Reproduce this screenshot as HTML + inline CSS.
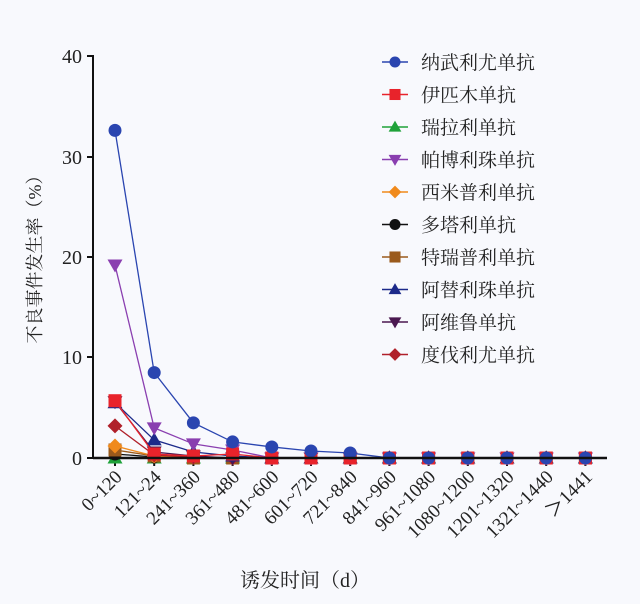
<!DOCTYPE html><html><head><meta charset="utf-8"><style>body{margin:0;background:#f8f9fd}svg{display:block}</style></head><body>
<svg width="640" height="604" xmlns="http://www.w3.org/2000/svg" font-family="Liberation Serif, serif">
<rect width="640" height="604" fill="#f8f9fd"/>
<g stroke="#111" stroke-width="2" fill="none">
<path d="M93 55 V458 H607"/>
<path d="M87 56H93M87 157H93M87 257H93M87 357H93M87 458H93"/>
</g>
<g stroke="#111" stroke-width="2" id="xt"></g>
<g font-size="20" fill="#222" text-anchor="end">
<text x="82" y="63">40</text><text x="82" y="164">30</text><text x="82" y="264">20</text><text x="82" y="364">10</text><text x="82" y="465">0</text>
</g>
<g id="xl" font-size="19" fill="#222" text-anchor="end"></g>
<text x="0" y="0" transform="translate(41,255) rotate(-90)" text-anchor="middle" font-size="18" fill="#222" font-family="Liberation Serif, Noto Serif CJK SC, serif">不良事件发生率（%）</text>
<text x="305" y="587" text-anchor="middle" font-size="20" fill="#222" font-family="Liberation Serif, Noto Serif CJK SC, serif">诱发时间（d）</text>
<g id="series"></g>
<g id="legend" font-size="19" fill="#222" font-family="Liberation Serif, Noto Serif CJK SC, serif"></g>
<script>
var NS="http://www.w3.org/2000/svg";
function el(t,a,p){var e=document.createElementNS(NS,t);for(var k in a)e.setAttribute(k,a[k]);p.appendChild(e);return e;}
var X=function(i){return 115+i*39.2}, Y=function(v){return 458-v*10.05};
var labs=["0~120","121~24","241~360","361~480","481~600","601~720","721~840","841~960","961~1080","1080~1200","1201~1320","1321~1440","＞1441"];
var xt=document.getElementById("xt"),xl=document.getElementById("xl");
labs.forEach(function(l,i){el("line",{x1:X(i),x2:X(i),y1:458,y2:466},xt);var t=el("text",{transform:"translate("+(X(i)+8)+",478) rotate(-45)"},xl);t.textContent=l;});
var S=[
["纳武利尤单抗","#2a45b0","circle",[32.6,8.5,3.5,1.6,1.1,0.7,0.5,0,0,0,0,0,0]],
["伊匹木单抗","#e8232b","square",[5.7,0.4,0.2,0.4,0,0,0,0,0,0,0,0,0]],
["瑞拉利单抗","#1fa23a","tri",[0,0,0,0,0,0,0,0,0,0,0,0,0]],
["帕博利珠单抗","#8a3fb0","dtri",[19.2,3.0,1.4,0.8,0,0,0,0,0,0,0,0,0]],
["西米普利单抗","#f08a1c","diamond",[1.2,0.2,0.1,0,0,0,0,0,0,0,0,0,0]],
["多塔利单抗","#111","circle",[0.4,0.1,0,0,0,0,0,0,0,0,0,0,0]],
["特瑞普利单抗","#9a5a1c","square",[0.8,0.2,0,0,0,0,0,0,0,0,0,0,0]],
["阿替利珠单抗","#1c2a8a","tri",[5.5,1.8,0.6,0.2,0,0,0,0,0,0,0,0,0]],
["阿维鲁单抗","#4a1850","dtri",[5.6,0.6,0.2,0,0,0,0,0,0,0,0,0,0]],
["度伐利尤单抗","#b0202a","diamond",[3.2,0.3,0.1,0,0,0,0,0,0,0,0,0,0]]];
function mk(type,x,y,c,g,s){s=s||1;
 if(type=="circle")el("circle",{cx:x,cy:y,r:6.5*s,fill:c},g);
 else if(type=="square")el("rect",{x:x-6.5*s,y:y-6.5*s,width:13*s,height:13*s,fill:c},g);
 else if(type=="tri")el("polygon",{points:[x,y-7.5*s,x-7.5*s,y+5.5*s,x+7.5*s,y+5.5*s].join(","),fill:c},g);
 else if(type=="dtri")el("polygon",{points:[x,y+7.5*s,x-7.5*s,y-5.5*s,x+7.5*s,y-5.5*s].join(","),fill:c},g);
 else el("polygon",{points:[x,y-7.5*s,x+7.5*s,y,x,y+7.5*s,x-7.5*s,y].join(","),fill:c},g);}
var sg=document.getElementById("series"),lg=document.getElementById("legend");
var order=[2,5,6,4,9,8,7,3,1,0];
order.forEach(function(k){var s=S[k];var pts=s[3].map(function(v,i){return X(i)+","+Y(v)}).join(" ");
 el("polyline",{points:pts,fill:"none",stroke:s[1],"stroke-width":1.3},sg);
 s[3].forEach(function(v,i){mk(s[2],X(i),Y(v),s[1],sg);});});
el("line",{x1:93,x2:607,y1:458,y2:458,stroke:"#111","stroke-width":2.5},sg);
S.forEach(function(s,i){var y=62+i*32.5;
 el("line",{x1:382,x2:408,y1:y,y2:y,stroke:s[1],"stroke-width":1.5},lg);
 mk(s[2],395,y,s[1],lg,0.85);
 var t=el("text",{x:421,y:y+7},lg);t.textContent=s[0];});
</script>
</svg></body></html>
